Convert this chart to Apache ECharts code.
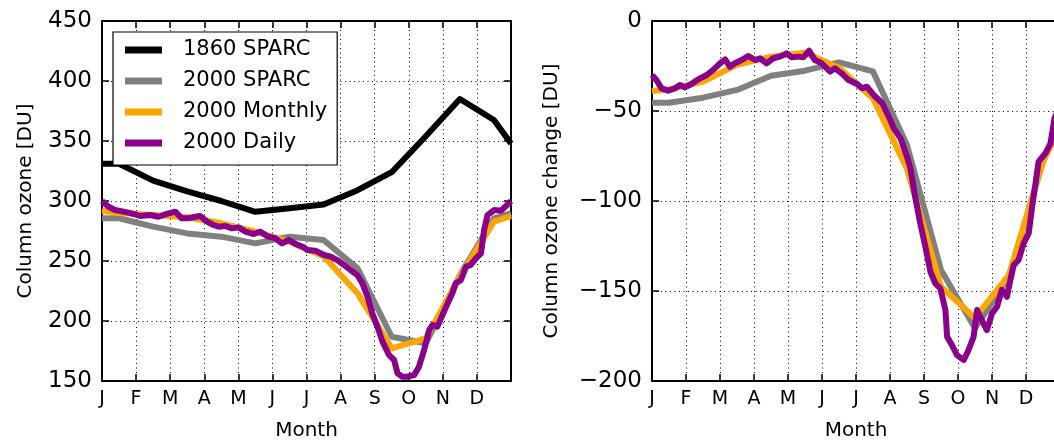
<!DOCTYPE html>
<html>
<head>
<meta charset="utf-8">
<script src="https://cdn.jsdelivr.net/npm/echarts@6/dist/echarts.min.js"></script>
<style>
html,body{margin:0;padding:0;background:#fff;}
#chart{width:1054px;height:441px;}
</style>
</head>
<body>
<div id="chart"></div>
<script>
// ---------------- data ----------------
const monthLetters = ['J','F','M','A','M','J','J','A','S','O','N','D'];
// x positions (in months) of the monthly vertices: start, mid-months, end
const sparcX = [0, 0.5, 1.5, 2.5, 3.5, 4.5, 5.5, 6.5, 7.5, 8.5, 9.5, 10.5, 11.5, 12];
// left panel: column ozone [DU]
const sparc1860 = [331, 331, 317, 308, 300, 291, 294, 297, 309, 324, 354, 385, 367.5, 348];
const sparc2000 = [285.6, 285.6, 278.6, 273, 270.3, 264.7, 270.3, 267.5, 243.9, 186.9, 181.4, 238, 285.6, 289.7];
const monthly2000 = [291.9, 290, 288.3, 286.4, 281.4, 274.4, 266, 254, 223, 177.2, 185.5, 237, 282.8, 287.5];
const dailyX = [0, 0.04, 0.19, 0.38, 0.63, 0.87, 1.12, 1.41, 1.66, 1.9, 2.15, 2.34, 2.54, 2.74, 2.88, 3.08, 3.27, 3.42, 3.62, 3.81, 4.01, 4.21, 4.45, 4.65, 4.84, 5.09, 5.28, 5.48, 5.68, 5.92, 6.02, 6.26, 6.51, 6.71, 6.9, 7.1, 7.29, 7.49, 7.64, 7.79, 7.93, 8.08, 8.23, 8.42, 8.57, 8.67, 8.81, 8.96, 9.16, 9.3, 9.45, 9.6, 9.7, 9.84, 9.99, 10.14, 10.28, 10.38, 10.53, 10.68, 10.82, 10.97, 11.12, 11.21, 11.31, 11.51, 11.71, 11.85, 12];
const daily2000 = [300, 299.4, 295.3, 292.5, 291.1, 289.7, 287.5, 288.3, 286.9, 289.2, 291.1, 285.6, 285.6, 286.9, 287.5, 282.8, 280, 278.6, 279.2, 277.2, 278, 274.4, 272.5, 274.4, 270.8, 268.9, 264.7, 267.5, 264.2, 261.4, 259.2, 258.6, 255, 253.6, 250.8, 246.7, 242.5, 238.3, 231.4, 220.3, 206.4, 195.3, 182.8, 171.7, 167.5, 156.4, 153.6, 153.6, 155, 161.9, 175.8, 192.5, 196.7, 195.3, 205, 214.7, 223.1, 231.4, 234.2, 245.3, 246.7, 252.2, 256.4, 275.8, 288.3, 292.5, 291.9, 295.8, 300];
// right panel: column ozone change [DU]
const sparc2000Change = [-45.4, -45.4, -42.6, -38.3, -30.4, -27.6, -23, -28, -68.9, -138.3, -170.7, -142, -78, -58];
const monthly2000Change = [-38.9, -38, -33.7, -24.4, -19.8, -17.6, -26, -43, -82, -147.6, -165, -141, -78, -58];
const dailyChangeX = [0, 0.13, 0.28, 0.48, 0.68, 0.82, 0.97, 1.16, 1.36, 1.61, 1.8, 2, 2.15, 2.29, 2.44, 2.64, 2.83, 3.03, 3.18, 3.37, 3.57, 3.76, 3.96, 4.11, 4.3, 4.45, 4.62, 4.79, 4.99, 5.24, 5.38, 5.58, 5.78, 6.03, 6.18, 6.32, 6.52, 6.77, 6.96, 7.11, 7.31, 7.5, 7.6, 7.74, 7.89, 8.04, 8.19, 8.33, 8.48, 8.63, 8.68, 8.82, 8.97, 9.17, 9.31, 9.46, 9.56, 9.7, 9.85, 10, 10.15, 10.29, 10.44, 10.54, 10.64, 10.78, 10.93, 11.08, 11.18, 11.28, 11.37, 11.57, 11.72, 11.84, 12];
const daily2000Change = [-30, -32.8, -37.4, -38.7, -37.4, -35.6, -36.9, -35, -32.4, -30, -27.2, -23.5, -21.3, -25.4, -23.5, -21.7, -19.4, -21.7, -20.7, -23.5, -20.7, -19.8, -18, -20.2, -19.8, -20.2, -16.5, -21.7, -23.5, -28.1, -26.3, -29.1, -32.8, -35, -37.4, -36.5, -41.1, -45.7, -53.1, -59.6, -65.2, -75.4, -81.8, -97.6, -112.4, -125.4, -139.3, -145.7, -148.5, -160.6, -175.4, -180, -185.6, -188.3, -182.8, -175.4, -160.6, -166.1, -171.7, -162.4, -158.7, -149.4, -153.2, -143.9, -135.6, -132.8, -123.5, -117.9, -103.2, -90.2, -78.1, -73.5, -68, -54, -47];

const seriesNames = ['1860 SPARC', '2000 SPARC', '2000 Monthly', '2000 Daily'];
const seriesColors = ['#000000', '#808080', '#ffa500', '#8b008b'];

// ---------------- chart ----------------
const FONT = 'DejaVu Sans';
const zip = (xs, ys) => xs.map((x, i) => [x, ys[i]]);
const minus = v => (v < 0 ? '\u2212' + Math.abs(v) : String(v));

function xAxisBottom(gridIndex) {
  return {
    type: 'value', gridIndex, min: 0, max: 12, interval: 1, position: 'bottom',
    name: 'Month', nameLocation: 'middle', nameGap: 40,
    nameTextStyle: { fontFamily: FONT, fontSize: 20, color: '#000' },
    axisLine: { show: true, onZero: false, lineStyle: { color: '#000', width: 2 } },
    axisTick: { show: true, inside: true, length: 7, lineStyle: { color: '#000', width: 1.5 } },
    axisLabel: { margin: 9, fontFamily: FONT, fontSize: 19, color: '#000', showMaxLabel: true,
      formatter: v => (v < 12 ? monthLetters[Math.round(v)] : '') },
    splitLine: { show: true, lineStyle: { color: '#000', width: 1, type: [1, 3.5] } }
  };
}
function xAxisTop(gridIndex) {
  return {
    type: 'value', gridIndex, min: 0, max: 12, interval: 1, position: 'top',
    axisLine: { show: true, onZero: false, lineStyle: { color: '#000', width: 2 } },
    axisTick: { show: true, inside: true, length: 7, lineStyle: { color: '#000', width: 1.5 } },
    axisLabel: { show: false }, splitLine: { show: false }
  };
}
function yAxisLeft(gridIndex, min, max, name, nameGap) {
  return {
    type: 'value', gridIndex, min, max, interval: 50, position: 'left',
    name, nameLocation: 'middle', nameGap,
    nameTextStyle: { fontFamily: FONT, fontSize: 20, color: '#000' },
    axisLine: { show: true, onZero: false, lineStyle: { color: '#000', width: 2 } },
    axisTick: { show: true, inside: true, length: 7, lineStyle: { color: '#000', width: 1.5 } },
    axisLabel: { margin: 10, fontFamily: FONT, fontSize: 23, color: '#000', formatter: minus },
    splitLine: { show: true, lineStyle: { color: '#000', width: 1, type: [1, 3.5] } }
  };
}

const option = {
  animation: false,
  backgroundColor: '#fff',
  grid: [
    { left: 102, top: 21, width: 409, height: 360, containLabel: false, outerBoundsMode: 'none' },
    { left: 652, top: 21, width: 408, height: 360, containLabel: false, outerBoundsMode: 'none' }
  ],
  xAxis: [xAxisBottom(0), xAxisTop(0), xAxisBottom(1), xAxisTop(1)],
  yAxis: [
    yAxisLeft(0, 150, 450, 'Column ozone [DU]', 66),
    {
      type: 'value', gridIndex: 0, min: 150, max: 450, interval: 50, position: 'right',
      axisLine: { show: true, onZero: false, lineStyle: { color: '#000', width: 2 } },
      axisTick: { show: true, inside: true, length: 7, lineStyle: { color: '#000', width: 1.5 } },
      axisLabel: { show: false }, splitLine: { show: false }
    },
    yAxisLeft(1, -200, 0, 'Column ozone change [DU]', 90)
  ],
  legend: {
    left: 113, top: 32, orient: 'vertical',
    data: seriesNames,
    icon: 'rect', itemWidth: 37, itemHeight: 7, itemGap: 7,
    padding: [6, 10, 10, 12],
    backgroundColor: '#fff', borderColor: '#000', borderWidth: 1.2,
    textStyle: { fontFamily: FONT, fontSize: 21, color: '#000', lineHeight: 24, padding: [0, 0, 0, 16] }
  },
  series: []
};

function addLine(name, idx, xIdx, yIdx, data) {
  option.series.push({
    name, type: 'line', xAxisIndex: xIdx, yAxisIndex: yIdx,
    data, showSymbol: false, symbol: 'none',
    color: seriesColors[idx],
    lineStyle: { color: seriesColors[idx], width: 6, join: 'round', cap: 'butt' },
    z: 3 + idx
  });
}
addLine(seriesNames[0], 0, 0, 0, zip(sparcX, sparc1860));
addLine(seriesNames[1], 1, 0, 0, zip(sparcX, sparc2000));
addLine(seriesNames[2], 2, 0, 0, zip(sparcX, monthly2000));
addLine(seriesNames[3], 3, 0, 0, zip(dailyX, daily2000));
addLine(seriesNames[1], 1, 2, 2, zip(sparcX, sparc2000Change));
addLine(seriesNames[2], 2, 2, 2, zip(sparcX, monthly2000Change));
addLine(seriesNames[3], 3, 2, 2, zip(dailyChangeX, daily2000Change));

const chart = echarts.init(document.getElementById('chart'), null, { renderer: 'canvas' });
chart.setOption(option);
</script>
</body>
</html>
